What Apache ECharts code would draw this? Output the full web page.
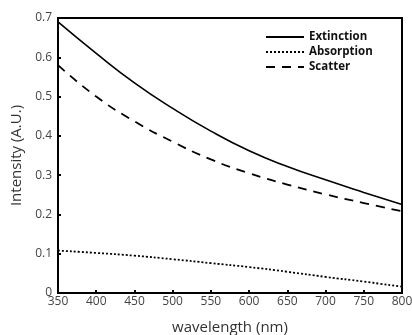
<!DOCTYPE html>
<html>
<head>
<meta charset="utf-8">
<script src="https://cdn.jsdelivr.net/npm/echarts@6/dist/echarts.min.js"></script>
<style>html,body{margin:0;padding:0;background:#fff;}#c{width:412px;height:335px;}</style>
</head>
<body>
<div id="c"></div>
<script>
var wavelengths = [350, 400, 450, 500, 550, 600, 650, 700, 750, 800];
var extinction = [0.69, 0.61, 0.535, 0.47, 0.412, 0.362, 0.322, 0.288, 0.256, 0.225];
var absorption = [0.108, 0.102, 0.095, 0.086, 0.076, 0.066, 0.054, 0.041, 0.029, 0.016];
var scatter = [0.58, 0.50, 0.437, 0.385, 0.34, 0.305, 0.276, 0.251, 0.229, 0.208];
var seriesNames = ['Extinction', 'Absorption', 'Scatter'];

function pairs(vals) { return wavelengths.map(function (w, i) { return [w, vals[i]]; }); }

var chart = echarts.init(document.getElementById('c'), null, {renderer: 'canvas'});
chart.setOption({
  animation: false,
  backgroundColor: '#fff',
  grid: {left: 58, right: 10, top: 18, bottom: 42, show: true, borderColor: '#000', borderWidth: 2,
         containLabel: false, outerBoundsMode: 'none'},
  legend: {
    left: 260, top: 26, orient: 'vertical', itemWidth: 38, itemHeight: 12, itemGap: 3,
    itemStyle: {opacity: 0},
    textStyle: {fontFamily: 'Open Sans', fontWeight: 'bold', fontSize: 11.5, color: '#111'},
    data: seriesNames
  },
  xAxis: {
    type: 'value', min: 350, max: 800, interval: 50,
    name: 'wavelength (nm)', nameLocation: 'middle', nameGap: 27,
    nameTextStyle: {fontFamily: 'Open Sans', fontSize: 15, color: '#333'},
    axisLine: {lineStyle: {color: '#000', width: 2}},
    axisTick: {inside: true, length: 3, lineStyle: {color: '#000', width: 2}},
    axisLabel: {fontFamily: 'Open Sans', fontSize: 12, color: '#444', margin: 3},
    splitLine: {show: false}
  },
  yAxis: {
    type: 'value', min: 0, max: 0.7, interval: 0.1,
    name: 'Intensity (A.U.)', nameLocation: 'middle', nameGap: 22,
    nameTextStyle: {fontFamily: 'Open Sans', fontSize: 15, color: '#333'},
    axisLine: {show: true, lineStyle: {color: '#000', width: 2}},
    axisTick: {show: true, inside: true, length: 3, lineStyle: {color: '#000', width: 2}},
    axisLabel: {fontFamily: 'Open Sans', fontSize: 12, color: '#444', margin: 6,
      formatter: function (v) { return v === 0 ? '0' : v.toFixed(1); }},
    splitLine: {show: false}
  },
  series: [
    {name: seriesNames[0], type: 'line', smooth: true, showSymbol: false, symbol: 'none',
     lineStyle: {color: '#000', width: 1.6, type: 'solid'}, itemStyle: {color: '#000'}, data: pairs(extinction)},
    {name: seriesNames[1], type: 'line', smooth: true, showSymbol: false, symbol: 'none',
     lineStyle: {color: '#000', width: 1.8, type: [2, 2]}, itemStyle: {color: '#000'}, data: pairs(absorption)},
    {name: seriesNames[2], type: 'line', smooth: true, showSymbol: false, symbol: 'none',
     lineStyle: {color: '#000', width: 1.8, type: [9, 7]}, itemStyle: {color: '#000'}, data: pairs(scatter)}
  ]
});
</script>
</body>
</html>
